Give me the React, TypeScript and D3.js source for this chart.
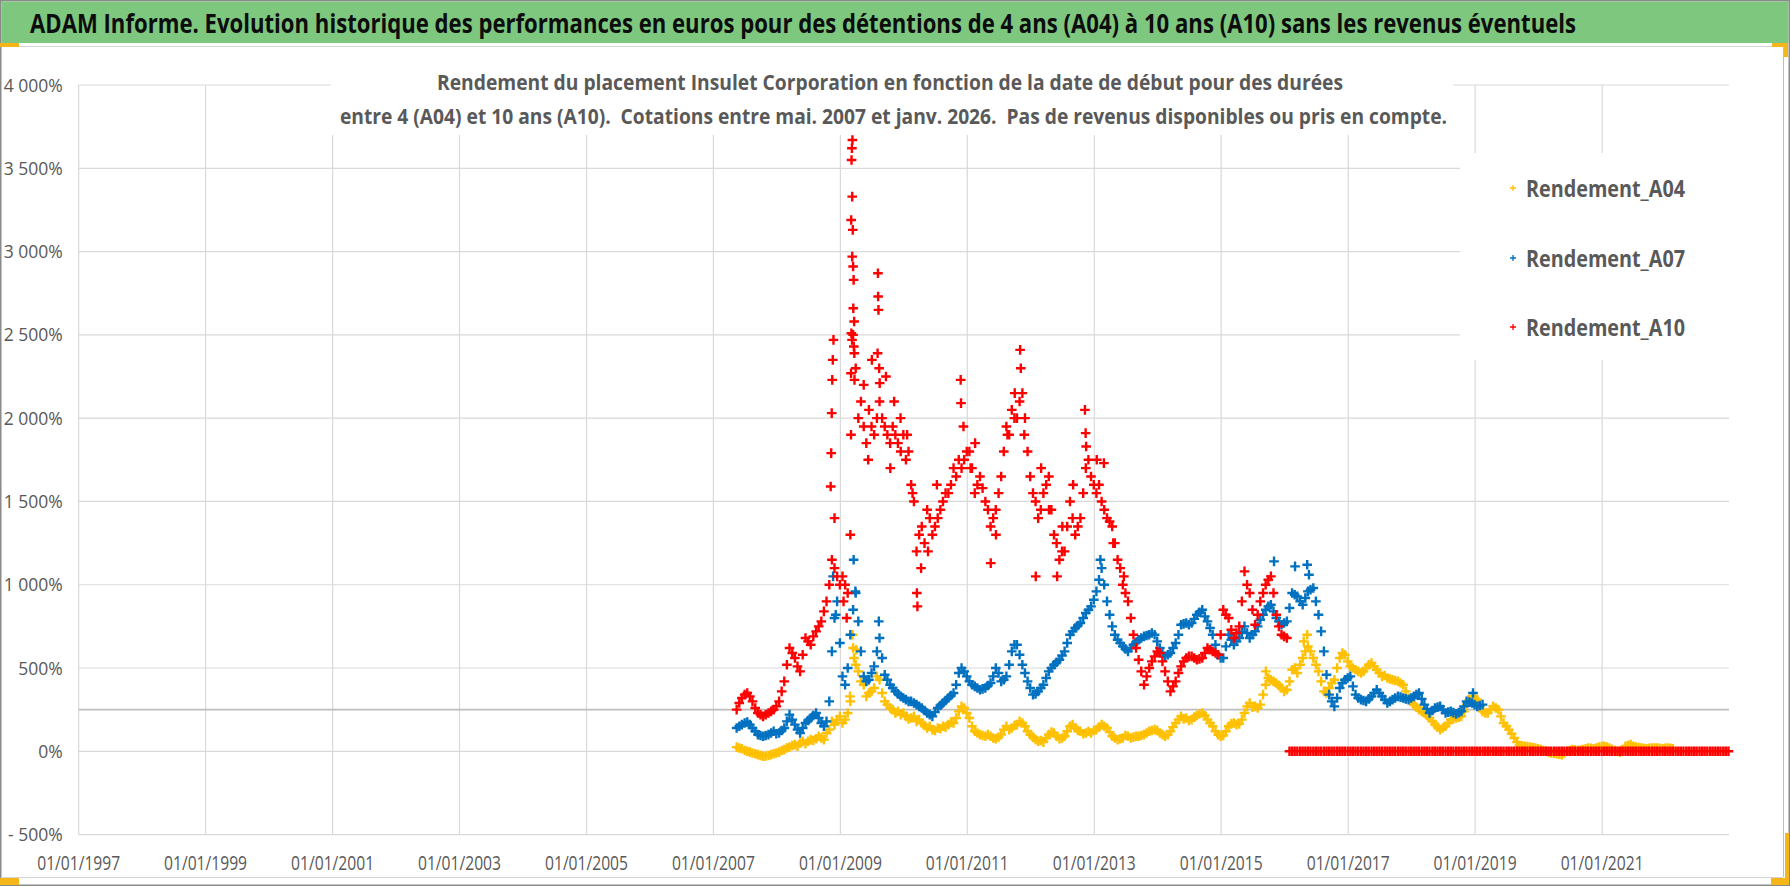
import React from "react";
import * as d3 from "d3";

const W = 1790;
const H = 886;
const FONT = "'Liberation Sans Narrow', 'Open Sans', sans-serif";

const title =
  "ADAM Informe. Evolution historique des performances en euros pour des détentions de 4 ans (A04) à 10 ans (A10) sans les revenus éventuels";
const subtitle1 =
  "Rendement du placement Insulet Corporation en fonction de la date de début pour des durées";
const subtitle2 =
  "entre 4 (A04) et 10 ans (A10).  Cotations entre mai. 2007 et janv. 2026.  Pas de revenus disponibles ou pris en compte.";

const xTickYears = [1997, 1999, 2001, 2003, 2005, 2007, 2009, 2011, 2013, 2015, 2017, 2019, 2021];
const yTicks = [-500, 0, 500, 1000, 1500, 2000, 2500, 3000, 3500, 4000];
const refLine = 250;

const seriesNames = ["Rendement_A04", "Rendement_A07", "Rendement_A10"];
const seriesColors = ["#FFC000", "#0070C0", "#FF0000"];

// readings (%) every half month, first value mid-May 2007
const firstDate = new Date(2007, 4, 15);

const a04 = [
  25, 20, 15, 5, 0, -5, -10, -15, -20, -25, -30, -28, -25, -20, -15, -10, -5, 5, 10, 20,
  25, 35, 40, 30, 50, 60, 45, 60, 70, 65, 75, 90, 80, 70, 110, 130, 180, 160, 190, 210,
  170, 190, 230, 300, 620, 520, 480, 420, 400, 330, 350, 360, 380, 450, 430, 350, 300, 280, 260, 250,
  230, 240, 220, 230, 210, 195, 200, 210, 180, 190, 170, 155, 140, 150, 130, 125, 140, 135, 150, 145,
  160, 175, 170, 200, 240, 270, 260, 230, 200, 150, 120, 110, 100, 95, 90, 100, 90, 80, 75, 85,
  100, 130, 150, 130, 140, 155, 160, 180, 170, 150, 120, 100, 85, 70, 60, 65, 55, 80, 100, 115,
  110, 90, 75, 80, 90, 120, 150, 160, 140, 125, 120, 105, 110, 120, 110, 125, 130, 145, 160, 150,
  140, 115, 90, 80, 70, 75, 80, 95, 90, 80, 85, 90, 90, 95, 100, 110, 120, 125, 130, 125,
  110, 100, 90, 100, 120, 145, 170, 190, 210, 195, 200, 185, 190, 205, 215, 225, 230, 215, 190, 170,
  150, 120, 100, 90, 95, 120, 150, 165, 170, 160, 165, 190, 230, 270, 290, 265, 270, 260, 280, 340,
  400, 440, 430, 420, 410, 395, 380, 360, 370, 420, 490, 500, 470, 520, 560, 600, 630, 600, 560, 520,
  480, 420, 360, 350, 380, 410, 430, 500, 560, 590, 580, 540, 510, 500, 490, 480, 470, 480, 500, 520,
  530, 510, 490, 470, 450, 455, 440, 435, 430, 425, 420, 410, 400, 360, 320, 300, 280, 265, 250, 240,
  230, 215, 200, 180, 160, 145, 130, 140, 150, 170, 190, 195, 200, 205, 210, 240, 280, 310, 330, 320,
  310, 270, 240, 230, 230, 250, 270, 260, 250, 210, 170, 150, 130, 105, 80, 55, 35, 32, 30, 28,
  25, 22, 20, 15, 10, 5, 0, -5, -10, -12, -15, -18, -20, -10, 0, 5, 10, 8, 5, 8,
  10, 15, 20, 18, 15, 20, 25, 28, 30, 25, 20, 12, 5, 0, -5, 10, 30, 35, 40, 30,
  25, 22, 20, 18, 15, 18, 20, 20, 20, 18, 15, 18, 20, 18, 15,
];

const a07 = [
  140, 150, 160, 170, 175, 160, 140, 120, 100, 95, 90, 95, 100, 110, 120, 105, 110, 125, 140, 180,
  220, 190, 160, 130, 110, 140, 170, 185, 200, 215, 230, 200, 170, 150, 180, 300, 600, 800, 900, 650,
  450, 400, 500, 700, 850, 950, 780, 600, 450, 420, 430, 470, 510, 600, 680, 560, 460, 430, 400, 380,
  360, 345, 330, 320, 310, 300, 300, 290, 280, 270, 260, 245, 230, 220, 210, 235, 260, 275, 290, 305,
  320, 335, 350, 400, 470, 500, 480, 450, 420, 400, 390, 380, 370, 375, 380, 395, 410, 450, 500, 470,
  420, 430, 450, 520, 600, 640, 640, 580, 520, 470, 420, 380, 340, 345, 360, 380, 400, 440, 480, 500,
  520, 535, 550, 575, 600, 650, 700, 720, 740, 755, 770, 800, 830, 850, 870, 910, 960, 1030, 1100, 1000,
  900, 820, 750, 700, 670, 650, 630, 615, 600, 620, 640, 655, 670, 680, 690, 695, 700, 710, 700, 660,
  620, 590, 570, 580, 590, 620, 650, 700, 760, 765, 770, 760, 770, 795, 820, 835, 850, 810, 780, 740,
  700, 640, 580, 560, 560, 630, 700, 670, 640, 660, 680, 715, 750, 710, 680, 700, 720, 750, 790, 820,
  850, 870, 880, 840, 800, 780, 760, 770, 780, 860, 950, 940, 930, 900, 880, 920, 960, 970, 980, 900,
  820, 720, 600, 460, 340, 300, 270, 320, 380, 410, 430, 440, 450, 390, 340, 320, 310, 305, 300, 315,
  330, 350, 370, 350, 330, 310, 290, 300, 310, 320, 330, 325, 320, 315, 310, 320, 330, 340, 350, 315,
  280, 255, 230, 245, 260, 265, 270, 250, 230, 235, 240, 232, 225, 232, 240, 270, 300, 295, 290, 280,
  270, 275, 280,
];

const a10 = [
  250, 290, 320, 340, 350, 330, 300, 260, 230, 220, 210, 220, 230, 240, 250, 270, 300, 360, 420, 520,
  620, 590, 560, 510, 480, 580, 680, 660, 640, 690, 720, 750, 780, 840, 900, 1000, 1150, 1100, 1050, 1000,
  1050, 1000, 950, 1300, 2500, 2300, 2000, 2100, 1950, 1850, 2050, 1950, 1900, 2000, 2100, 2000, 1950, 1900, 1850, 1950,
  1900, 1850, 1800, 1900, 1750, 1800, 1600, 1500, 1200, 1300, 1350, 1250, 1450, 1400, 1300, 1350, 1400, 1450, 1500, 1550,
  1550, 1600, 1700, 1650, 1750, 1700, 1750, 1800, 1800, 1700, 1550, 1600, 1650, 1580, 1500, 1450, 1350, 1400, 1450, 1550,
  1650, 1800, 1950, 1900, 2050, 2000, 2000, 2100, 2150, 2000, 1800, 1650, 1550, 1500, 1400, 1450, 1550, 1600, 1650, 1450,
  1300, 1250, 1150, 1200, 1200, 1350, 1500, 1400, 1300, 1350, 1400, 1550, 1700, 1750, 1650, 1600, 1550, 1600, 1500, 1450,
  1400, 1380, 1350, 1250, 1150, 1100, 1000, 950, 900, 800, 700, 620, 550, 480, 400, 450, 500, 540, 570, 600,
  590, 540, 480, 420, 360, 390, 420, 470, 510, 540, 560, 570, 570, 560, 550, 555, 560, 590, 620, 610,
  600, 590, 580, 700, 850, 820, 800, 730, 680, 710, 750, 900, 1080, 1000, 950, 850, 760, 820, 900, 950,
  1000, 1030, 1050, 950, 820, 750, 700, 690, 680,
  0, 0, 0, 0, 0, 0, 0, 0, 0, 0, 0, 0, 0, 0, 0, 0, 0, 0, 0, 0,
  0, 0, 0, 0, 0, 0, 0, 0, 0, 0, 0, 0, 0, 0, 0, 0, 0, 0, 0, 0,
  0, 0, 0, 0, 0, 0, 0, 0, 0, 0, 0, 0, 0, 0, 0, 0, 0, 0, 0, 0,
  0, 0, 0, 0, 0, 0, 0, 0, 0, 0, 0, 0, 0, 0, 0, 0, 0, 0, 0, 0,
  0, 0, 0, 0, 0, 0, 0, 0, 0, 0, 0, 0, 0, 0, 0, 0, 0, 0, 0, 0,
  0, 0, 0, 0, 0, 0, 0, 0, 0, 0, 0, 0, 0, 0, 0, 0, 0, 0, 0, 0,
  0, 0, 0, 0, 0, 0, 0, 0, 0, 0, 0, 0, 0, 0, 0, 0, 0, 0, 0, 0,
  0, 0, 0, 0, 0, 0, 0, 0, 0, 0, 0, 0, 0, 0, 0, 0, 0, 0, 0, 0,
  0, 0, 0, 0, 0, 0, 0,
];

// isolated points standing out of the bands
const a04Extra: [string, number][] = [
  ["2009-02-25", 330], ["2009-03-12", 700], ["2009-03-20", 560], ["2009-04-02", 610],
  ["2015-09-15", 480], ["2016-05-10", 700], ["2016-04-20", 660],
];
const a07Extra: [string, number][] = [
  ["2008-11-20", 1050], ["2008-12-05", 820], ["2009-03-18", 1150], ["2009-03-28", 960],
  ["2009-08-10", 780], ["2013-02-05", 1150], ["2015-11-01", 1140], ["2016-03-01", 1110],
  ["2016-05-10", 1120], ["2016-05-20", 1060], ["2018-12-20", 350],
];
const a10Extra: [string, number][] = [
  ["2008-11-06", 1590], ["2008-11-09", 1790], ["2008-11-12", 2030], ["2008-11-15", 2230],
  ["2008-11-18", 2350], ["2008-11-22", 2470], ["2008-11-28", 1400],
  ["2009-01-19", 900], ["2009-02-06", 800],
  ["2009-03-08", 3620], ["2009-03-11", 3670], ["2009-03-06", 3550], ["2009-03-10", 3330],
  ["2009-03-04", 3190], ["2009-03-13", 3130], ["2009-03-10", 2970], ["2009-03-15", 2910],
  ["2009-03-18", 2830], ["2009-03-16", 2660], ["2009-03-21", 2580], ["2009-03-05", 2510],
  ["2009-03-09", 2470], ["2009-03-19", 2430], ["2009-03-22", 2390], ["2009-03-03", 2270],
  ["2009-03-23", 2230], ["2009-03-03", 1900],
  ["2009-05-15", 2200], ["2009-06-10", 1750], ["2009-07-01", 2350],
  ["2009-08-05", 2870], ["2009-08-06", 2730], ["2009-08-08", 2650], ["2009-08-03", 2390],
  ["2009-08-12", 2300], ["2009-08-15", 2210],
  ["2009-09-20", 2250], ["2009-10-15", 1700], ["2009-11-06", 2100], ["2009-12-13", 2000],
  ["2010-01-20", 1900], ["2010-02-20", 1550],
  ["2010-03-17", 950], ["2010-03-20", 870], ["2010-04-10", 1100], ["2010-05-20", 1200],
  ["2010-07-10", 1600],
  ["2010-11-24", 2230], ["2010-11-26", 2090], ["2010-12-10", 1950], ["2011-01-20", 1700],
  ["2011-02-15", 1850],
  ["2011-05-16", 1130], ["2011-06-15", 1300], ["2011-08-20", 1900], ["2011-10-01", 2150],
  ["2011-11-01", 2410], ["2011-11-05", 2300], ["2011-11-25", 1900],
  ["2012-01-30", 1050], ["2012-03-01", 1700], ["2012-04-15", 1450], ["2012-06-01", 1050],
  ["2012-07-01", 1350], ["2012-09-01", 1600],
  ["2012-11-08", 2050], ["2012-11-12", 1910], ["2012-11-15", 1830], ["2013-01-15", 1750],
  ["2013-02-25", 1730], ["2013-04-20", 1250], ["2013-06-20", 1050],
];

const halfMonths = (vals: number[]) =>
  vals.map(
    (v, i) => [d3.timeDay.offset(firstDate, Math.round((i * 365.25) / 24)), v] as [Date, number]
  );
const extra = (pts: [string, number][]) =>
  pts.map(([d, v]) => [d3.timeParse("%Y-%m-%d")(d) as Date, v] as [Date, number]);

const seriesData = [
  halfMonths(a04).concat(extra(a04Extra)),
  halfMonths(a07).concat(extra(a07Extra)),
  halfMonths(a10).concat(extra(a10Extra)),
];

const fmtPct = (v: number) =>
  (v < 0 ? "- " : "") + d3.format(",")(Math.abs(v)).replace(/,/g, " ") + "%";

export default function App() {
  const x = d3
    .scaleTime()
    .domain([new Date(1997, 0, 1), new Date(2023, 0, 1)])
    .range([78.7, 1729]);
  const y = d3.scaleLinear().domain([-500, 4000]).range([834.6, 85]);
  const [x0, x1] = x.range();

  const plus = (pts: [Date, number][], s: number) =>
    pts
      .map(([d, v]) => {
        const px = x(d);
        const py = y(v);
        return `M${px - s},${py}h${2 * s}M${px},${py - s}v${2 * s}`;
      })
      .join("");

  const legendY = [188, 258, 327];

  return (
    <svg
      width={W}
      height={H}
      style={{ position: "absolute", left: 0, top: 0, background: "#fff" }}
      fontFamily={FONT}
    >
      {/* frame */}
      <rect x={0.75} y={0.75} width={W - 1.5} height={H - 1.5} fill="#fff" stroke="#8a8a8a" strokeWidth={1.5} />
      <rect x={1.5} y={1.5} width={W - 3} height={41.5} fill="#7EC77E" />
      <line x1={1} x2={1783} y1={46.5} y2={46.5} stroke="#d4d4d4" />
      <line x1={1783.5} x2={1783.5} y1={46} y2={877} stroke="#bfbfbf" />
      <line x1={1} x2={1783} y1={877.5} y2={877.5} stroke="#d4d4d4" />

      {/* gridlines */}
      {xTickYears.map((yr) => (
        <line
          key={"vx" + yr}
          x1={x(new Date(yr, 0, 1))}
          x2={x(new Date(yr, 0, 1))}
          y1={y(4000)}
          y2={y(-500)}
          stroke="#d9d9d9"
          strokeWidth={1.2}
        />
      ))}
      {yTicks.map((t) => (
        <line key={"hy" + t} x1={x0} x2={x1} y1={y(t)} y2={y(t)} stroke="#d9d9d9" strokeWidth={1.2} />
      ))}
      <line x1={x0} x2={x1} y1={y(refLine)} y2={y(refLine)} stroke="#bdbdbd" strokeWidth={1.6} />

      {/* title and legend boxes */}
      <rect x={331} y={60} width={1122} height={75} fill="#fff" />
      <rect x={1460} y={153} width={275} height={207} fill="#fff" />

      {/* series */}
      {seriesData.map((pts, i) => (
        <path key={seriesNames[i]} d={plus(pts, 4.8)} stroke={seriesColors[i]} strokeWidth={2.4} fill="none" />
      ))}

      {/* y labels */}
      {yTicks.map((t) => (
        <text key={"yl" + t} x={62.7} y={y(t) + 6.5} textAnchor="end" fontSize={17.5} fill="#595959">
          {fmtPct(t)}
        </text>
      ))}
      {/* x labels */}
      {xTickYears.map((yr) => (
        <text
          key={"xl" + yr}
          x={x(new Date(yr, 0, 1))}
          y={869.5}
          textAnchor="middle"
          fontSize={20}
          fill="#595959"
          textLength={83}
          lengthAdjust="spacingAndGlyphs"
        >
          {d3.timeFormat("%d/%m/%Y")(new Date(yr, 0, 1))}
        </text>
      ))}

      {/* subtitle */}
      <text x={890} y={90} textAnchor="middle" fontSize={21.5} fontWeight="bold" fill="#595959"
        textLength={906} lengthAdjust="spacingAndGlyphs" style={{ whiteSpace: "pre" }}>
        {subtitle1}
      </text>
      <text x={893.5} y={124} textAnchor="middle" fontSize={21.5} fontWeight="bold" fill="#595959"
        textLength={1107} lengthAdjust="spacingAndGlyphs" style={{ whiteSpace: "pre" }}>
        {subtitle2}
      </text>

      {/* legend */}
      {seriesNames.map((n, i) => (
        <g key={"lg" + n}>
          <path
            d={`M${1510},${legendY[i]}h6M${1513},${legendY[i] - 3}v6`}
            stroke={seriesColors[i]}
            strokeWidth={1.3}
          />
          <text x={1526} y={legendY[i] + 8.5} fontSize={24} fontWeight="bold" fill="#595959"
            textLength={159} lengthAdjust="spacingAndGlyphs">
            {n}
          </text>
        </g>
      ))}

      {/* main title */}
      <text transform="translate(30,33) scale(1,1.35)" fontSize={19.5} fontWeight="bold" fill="#0d0d0d"
        textLength={1546} lengthAdjust="spacingAndGlyphs">
        {title}
      </text>

      {/* selection handles */}
      <rect x={0} y={43} width={19} height={4} fill="#F4B619" />
      <rect x={1772} y={43} width={16} height={4} fill="#F4B619" />
      <rect x={1784} y={43} width={4} height={14} fill="#F4B619" />
      <rect x={1785} y={833} width={4} height={52} fill="#F4B619" />
      <rect x={1771} y={878} width={18} height={7} fill="#F4B619" />
      <rect x={0} y={878} width={19} height={7} fill="#F4B619" />
    </svg>
  );
}
